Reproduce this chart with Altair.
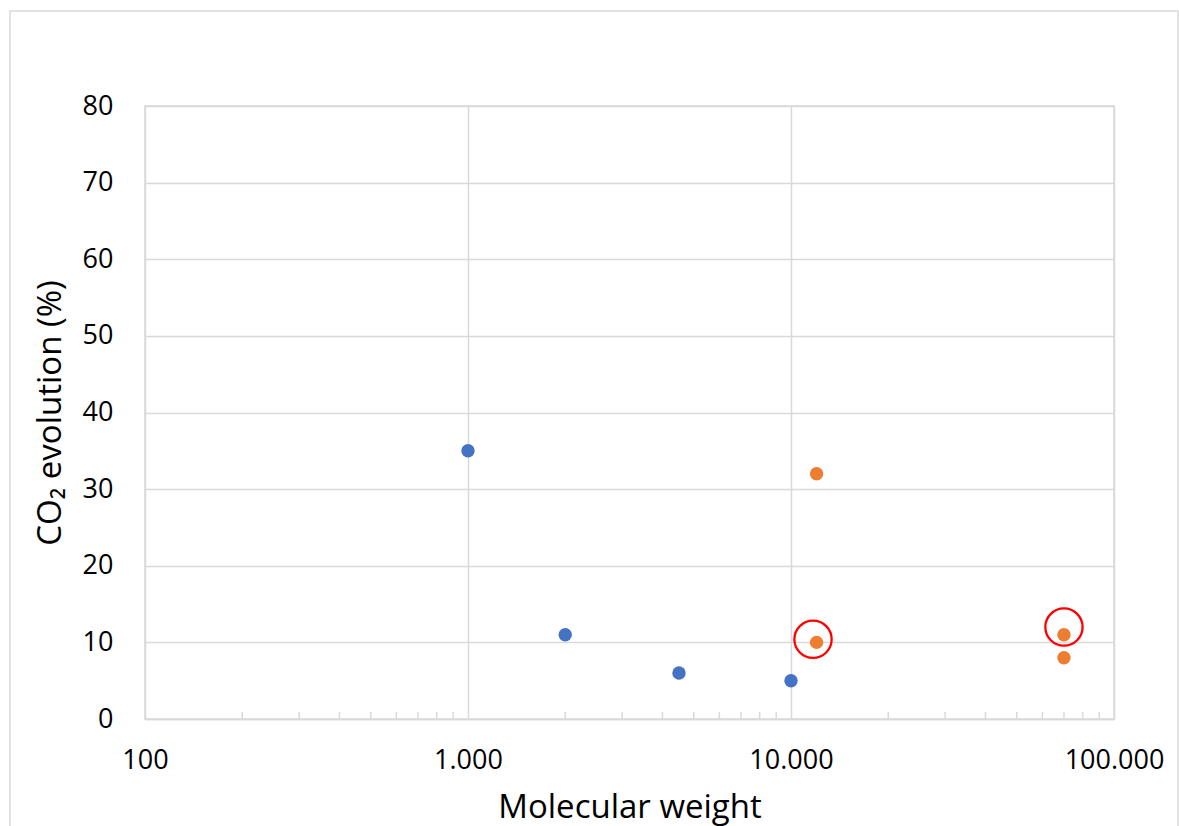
import altair as alt
import pandas as pd

# Data
blue_mw = [1000, 2000, 4500, 10000]
blue_co2 = [35, 11, 6, 5]
orange_mw = [12000, 12000, 70000, 70000]
orange_co2 = [32, 10, 11, 8]
circle_mw = [11700, 70000]
circle_co2 = [10.4, 12.0]
major_ticks = [100, 1000, 10000, 100000]
minor_ticks = [200, 300, 400, 500, 600, 700, 800, 900,
               2000, 3000, 4000, 5000, 6000, 7000, 8000, 9000,
               20000, 30000, 40000, 50000, 60000, 70000, 80000, 90000]
y_ticks = [0, 10, 20, 30, 40, 50, 60, 70, 80]

FONT = "Open Sans"
W, H = 969, 613

pts = pd.DataFrame({
    "mw": blue_mw + orange_mw,
    "co2": blue_co2 + orange_co2,
    "series": ["A"] * len(blue_mw) + ["B"] * len(orange_mw),
})
circ = pd.DataFrame({"mw": circle_mw, "co2": circle_co2})
minor = pd.DataFrame({"mw": minor_ticks})

xscale = alt.Scale(type="log", domain=[100, 100000], nice=False)
yscale = alt.Scale(domain=[0, 80], nice=False)

xaxis = alt.Axis(
    title="Molecular weight", values=major_ticks, format=",d",
    labelExpr="replace(datum.label, ',', '.')",
    ticks=False, domain=True, domainColor="#d9d9d9", domainWidth=1.5,
    grid=True, gridColor="#d9d9d9", gridWidth=1.5, labelFlush=False,
    labelFont=FONT, labelFontSize=27, labelColor="#000000", labelPadding=28,
    titleFont=FONT, titleFontSize=33, titleFontWeight="normal", titleColor="#000000",
    titlePadding=18,
)
yaxis = alt.Axis(
    title="CO₂ evolution (%)", values=y_ticks,
    ticks=False, domain=False, labelFlush=False,
    grid=True, gridColor="#d9d9d9", gridWidth=1.5,
    labelFont=FONT, labelFontSize=27, labelColor="#000000", labelPadding=32,
    titleFont=FONT, titleFontSize=33, titleFontWeight="normal", titleColor="#000000",
    titlePadding=15,
)

border = alt.Chart(pd.DataFrame({"a": [0]})).mark_rect(
    fill=None, stroke="#d9d9d9", strokeWidth=1.5, clip=False
).encode(
    x=alt.value(-135), x2=alt.value(W + 64), y=alt.value(-95), y2=alt.value(H + 120)
)

minor_layer = alt.Chart(minor).mark_rule(color="#d9d9d9", strokeWidth=1.5).encode(
    x=alt.X("mw:Q", scale=xscale, axis=xaxis),
    y=alt.value(H - 7), y2=alt.value(H),
)

points = alt.Chart(pts).mark_circle(size=180, opacity=1).encode(
    x=alt.X("mw:Q", scale=xscale, axis=xaxis),
    y=alt.Y("co2:Q", scale=yscale, axis=yaxis),
    color=alt.Color("series:N", scale=alt.Scale(domain=["A", "B"], range=["#4472C4", "#ED7D31"]), legend=None),
)

circles = alt.Chart(circ).mark_point(shape="circle", size=1390, filled=False,
                                      stroke="#FF0000", strokeWidth=2.3, opacity=1).encode(
    x=alt.X("mw:Q", scale=xscale, axis=xaxis),
    y=alt.Y("co2:Q", scale=yscale, axis=yaxis),
)

chart = alt.layer(border, minor_layer, points, circles).properties(
    width=W, height=H,
    autosize=alt.AutoSizeParams(type="none"),
    padding={"left": 145, "top": 106, "right": 65, "bottom": 107},
    background="white",
).configure_view(stroke="#d9d9d9", strokeWidth=1.5)

chart.save("out.html", embed_options={"renderer": "svg", "actions": False})
